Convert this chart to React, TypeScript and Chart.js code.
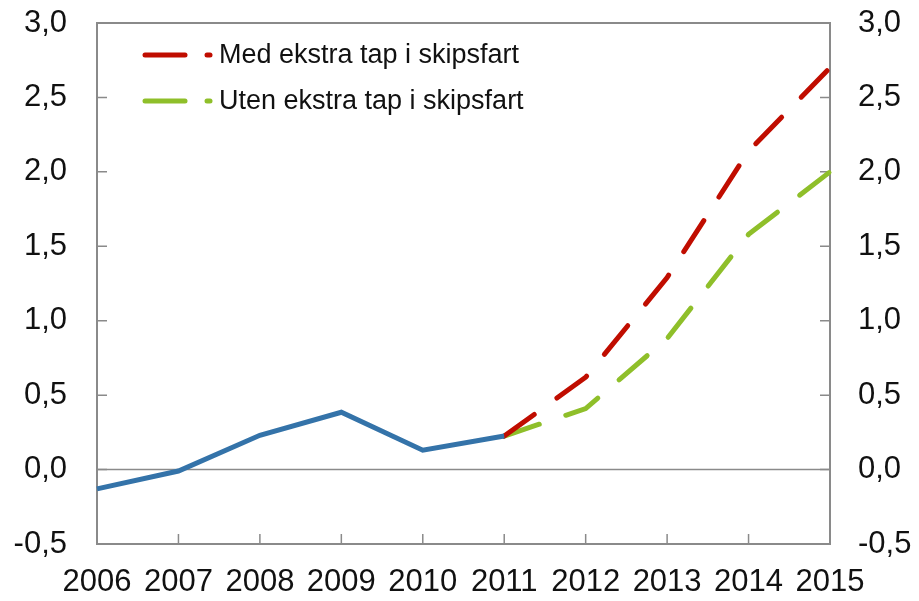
import React, { useEffect, useRef } from "react";
import { Chart, registerables } from "chart.js";

Chart.register(...registerables);

const years = ["2006", "2007", "2008", "2009", "2010", "2011", "2012", "2013", "2014", "2015"];
const historical = [-0.13, -0.01, 0.23, 0.385, 0.13, 0.225, null, null, null, null];
const withLoss = [null, null, null, null, null, 0.225, 0.62, 1.29, 2.14, 2.7];
const withoutLoss = [null, null, null, null, null, 0.225, 0.41, 0.88, 1.58, 2.0];
const legendLabels = ["Med ekstra tap i skipsfart", "Uten ekstra tap i skipsfart"];
const yMin = -0.5;
const yMax = 3.0;
const yStep = 0.5;

const BLUE = "#3473a9";
const RED = "#c00d00";
const GREEN = "#8fbf2a";
const GRAY = "#8a8a8a";
const FONT = "'Liberation Sans', Arial, sans-serif";

const framePlugin = {
  id: "frame",
  beforeDatasetsDraw(chart: any) {
    const { ctx, chartArea, scales } = chart;
    const { left, right, top, bottom } = chartArea;
    ctx.save();
    ctx.strokeStyle = GRAY;
    const y0 = scales.y.getPixelForValue(0);
    ctx.lineWidth = 1.5;
    ctx.beginPath();
    ctx.moveTo(left, y0);
    ctx.lineTo(right, y0);
    ctx.stroke();
    ctx.lineWidth = 2;
    ctx.strokeRect(left, top, right - left, bottom - top);
    ctx.lineWidth = 1.5;
    scales.y.ticks.forEach((t: any) => {
      const y = scales.y.getPixelForValue(t.value);
      ctx.beginPath();
      ctx.moveTo(left, y);
      ctx.lineTo(left + 10, y);
      ctx.moveTo(right - 10, y);
      ctx.lineTo(right, y);
      ctx.stroke();
    });
    scales.x.ticks.forEach((_t: any, i: number) => {
      const x = scales.x.getPixelForTick(i);
      ctx.beginPath();
      ctx.moveTo(x, bottom);
      ctx.lineTo(x, bottom - 10);
      ctx.stroke();
    });
    ctx.restore();
  },
  afterDatasetsDraw(chart: any) {
    const { ctx, chartArea } = chart;
    const colors = [RED, GREEN];
    const x0 = chartArea.left + 48;
    const ys = [chartArea.top + 32, chartArea.top + 78];
    ctx.save();
    ctx.lineCap = "round";
    ctx.lineWidth = 5;
    legendLabels.forEach((label, i) => {
      const y = ys[i];
      ctx.strokeStyle = colors[i];
      ctx.beginPath();
      ctx.moveTo(x0, y);
      ctx.lineTo(x0 + 40, y);
      ctx.stroke();
      ctx.beginPath();
      ctx.moveTo(x0 + 62, y);
      ctx.lineTo(x0 + 65, y);
      ctx.stroke();
      ctx.fillStyle = "#111111";
      ctx.font = `27px ${FONT}`;
      ctx.textBaseline = "middle";
      ctx.textAlign = "left";
      ctx.fillText(label, x0 + 74, y + 1);
    });
    ctx.restore();
  },
};

const fmt = (v: any) => Number(v).toFixed(1).replace(".", ",");

const fixY = (w: number) => (s: any) => {
  s.width = w;
  s.paddingTop = 0;
  s.paddingBottom = 0;
};

export default function App() {
  const ref = useRef<HTMLCanvasElement | null>(null);
  useEffect(() => {
    document.body.style.margin = "0";
    const canvas = ref.current!;
    const chart = new Chart(canvas, {
      type: "line",
      data: {
        labels: years,
        datasets: [
          {
            label: "Historisk",
            data: historical,
            borderColor: BLUE,
            borderWidth: 5,
            pointRadius: 0,
            tension: 0,
            spanGaps: false,
            borderCapStyle: "butt",
          },
          {
            label: legendLabels[0],
            data: withLoss,
            borderColor: RED,
            borderWidth: 5,
            pointRadius: 0,
            tension: 0,
            borderDash: [37, 28],
            borderCapStyle: "round",
          },
          {
            label: legendLabels[1],
            data: withoutLoss,
            borderColor: GREEN,
            borderWidth: 5,
            pointRadius: 0,
            tension: 0,
            borderDash: [37, 28],
            borderCapStyle: "round",
          },
        ],
      },
      options: {
        responsive: false,
        animation: false,
        layout: { padding: { top: 23, left: 0, right: 0, bottom: 0 } },
        plugins: { legend: { display: false }, tooltip: { enabled: false } },
        scales: {
          x: {
            type: "category",
            offset: false,
            grid: { display: false, drawTicks: false },
            border: { display: false },
            ticks: {
              color: "#111111",
              font: { family: FONT, size: 31 },
              padding: 20,
              maxRotation: 0,
              autoSkip: false,
            },
            afterFit: (s: any) => {
              s.height = 57;
              s.paddingLeft = 0;
              s.paddingRight = 0;
            },
          },
          y: {
            position: "left",
            min: yMin,
            max: yMax,
            grid: { display: false, drawTicks: false },
            border: { display: false },
            ticks: {
              stepSize: yStep,
              color: "#111111",
              font: { family: FONT, size: 31 },
              padding: 30,
              callback: fmt,
            },
            afterFit: fixY(97),
          },
          y2: {
            position: "right",
            min: yMin,
            max: yMax,
            grid: { display: false, drawTicks: false },
            border: { display: false },
            ticks: {
              stepSize: yStep,
              color: "#111111",
              font: { family: FONT, size: 31 },
              padding: 28,
              callback: fmt,
            },
            afterFit: fixY(89),
          },
        },
      },
      plugins: [framePlugin],
    } as any);
    return () => chart.destroy();
  }, []);
  return <canvas ref={ref} width={919} height={601} style={{ display: "block" }} />;
}
